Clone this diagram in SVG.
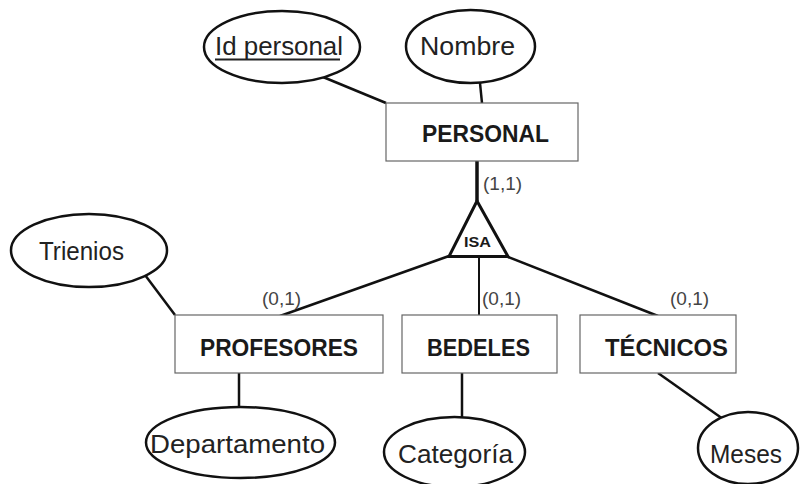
<svg xmlns="http://www.w3.org/2000/svg" width="800" height="484" viewBox="0 0 800 484">
<style>
.attr{fill:#fff;stroke:#111;stroke-width:2.5}
.ent{fill:#fff;stroke:#666;stroke-width:1.2}
.isa{fill:#fff;stroke:#111;stroke-width:3;stroke-linejoin:miter}
.lbl{font-family:"Liberation Sans",Arial,sans-serif;font-size:25px;fill:#222}
.ename{font-family:"Liberation Sans",Arial,sans-serif;font-size:24px;font-weight:bold;fill:#1a1a1a}
.card{font-family:"Liberation Sans",Arial,sans-serif;font-size:19px;fill:#444}
.ln{stroke:#111;stroke-width:2.5;fill:none}
</style>
<rect width="800" height="484" fill="#fff"/>
<g id="connectors">
<line class="ln" x1="323" y1="77" x2="386" y2="103"/>
<line class="ln" x1="480" y1="83" x2="482" y2="103"/>
<line class="ln" x1="477" y1="161" x2="477" y2="201" style="stroke-width:3.5"/>
<line class="ln" x1="449" y1="256" x2="280" y2="316"/>
<line class="ln" x1="479" y1="256" x2="479" y2="315" style="stroke-width:2"/>
<line class="ln" x1="508" y1="257" x2="658" y2="316"/>
<line class="ln" x1="145" y1="275" x2="175" y2="315"/>
<line class="ln" x1="239" y1="373" x2="239" y2="407"/>
<line class="ln" x1="462" y1="373" x2="462" y2="418"/>
<line class="ln" x1="658" y1="373" x2="723" y2="419"/>
</g>
<g id="id-personal">
<ellipse class="attr" cx="282" cy="47" rx="78" ry="36"/>
<text class="lbl" x="215" y="55" textLength="128" lengthAdjust="spacingAndGlyphs">Id personal</text>
<line x1="215" y1="59.5" x2="340" y2="59.5" stroke="#222" stroke-width="2"/>
</g>
<g id="nombre">
<ellipse class="attr" cx="470.5" cy="46.5" rx="64.5" ry="36.5"/>
<text class="lbl" x="420" y="55" textLength="95" lengthAdjust="spacingAndGlyphs">Nombre</text>
</g>
<g id="personal">
<rect class="ent" x="386" y="103" width="192" height="58"/>
<text class="ename" x="422" y="142" textLength="127" lengthAdjust="spacingAndGlyphs">PERSONAL</text>
<text class="card" x="483" y="190">(1,1)</text>
</g>
<g id="isa">
<polygon class="isa" points="477,201 449,256.5 508,256.5"/>
<text x="464" y="247" font-family="Liberation Sans,Arial,sans-serif" font-size="15" font-weight="bold" fill="#1a1a1a" textLength="27" lengthAdjust="spacingAndGlyphs">ISA</text>
</g>
<g id="trienios">
<ellipse class="attr" cx="89" cy="250.5" rx="78" ry="36.5"/>
<text class="lbl" x="39" y="260" textLength="85" lengthAdjust="spacingAndGlyphs">Trienios</text>
</g>
<g id="profesores">
<rect class="ent" x="175" y="315" width="208" height="58"/>
<text class="ename" x="200" y="356" textLength="158" lengthAdjust="spacingAndGlyphs">PROFESORES</text>
<text class="card" x="262" y="305">(0,1)</text>
</g>
<g id="bedeles">
<rect class="ent" x="402" y="315" width="155" height="58"/>
<text class="ename" x="427" y="356" textLength="103" lengthAdjust="spacingAndGlyphs">BEDELES</text>
<text class="card" x="482" y="305">(0,1)</text>
</g>
<g id="tecnicos">
<rect class="ent" x="580" y="315" width="156" height="58"/>
<text class="ename" x="605" y="356" textLength="123" lengthAdjust="spacingAndGlyphs">TÉCNICOS</text>
<text class="card" x="670" y="305">(0,1)</text>
</g>
<g id="departamento">
<ellipse class="attr" cx="240.5" cy="442.5" rx="94.5" ry="35.5"/>
<text class="lbl" x="150" y="453" textLength="175" lengthAdjust="spacingAndGlyphs">Departamento</text>
</g>
<g id="categoria">
<ellipse class="attr" cx="454.5" cy="452" rx="70.5" ry="35"/>
<text class="lbl" x="398" y="463" textLength="115" lengthAdjust="spacingAndGlyphs">Categoría</text>
</g>
<g id="meses">
<ellipse class="attr" cx="748" cy="448" rx="50" ry="36"/>
<text class="lbl" x="710" y="463" textLength="72" lengthAdjust="spacingAndGlyphs">Meses</text>
</g>
</svg>
